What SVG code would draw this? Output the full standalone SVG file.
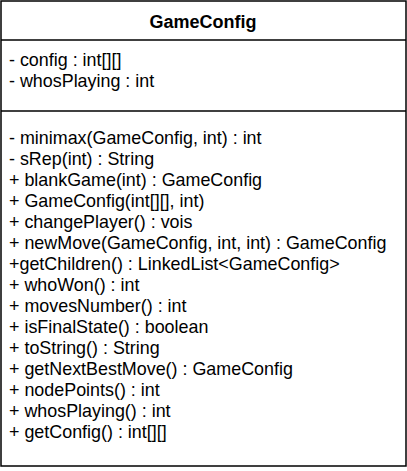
<svg xmlns="http://www.w3.org/2000/svg" width="407" height="471" viewBox="0 0 407 471">
<style>
.box{fill:#fff;stroke:#000;stroke-width:1.5}
.ln{stroke:#000;stroke-width:1.5}
.t{font-family:"Liberation Sans",Arial,sans-serif;font-size:17.9px;fill:#000}
.h{font-family:"Liberation Sans",Arial,sans-serif;font-size:18px;font-weight:bold;fill:#000}
</style>
<g id="GameConfig">
<rect class="box" x="1" y="1" width="405" height="465"/>
<line class="ln" x1="1" y1="40" x2="406" y2="40"/>
<line class="ln" x1="1" y1="111" x2="406" y2="111"/>
<text class="h" x="203" y="28" text-anchor="middle">GameConfig</text>
<text class="t" x="9" y="66">- config : int[][]</text>
<text class="t" x="9" y="87">- whosPlaying : int</text>
<text class="t" x="9" y="144">- minimax(GameConfig, int) : int</text>
<text class="t" x="9" y="165">- sRep(int) : String</text>
<text class="t" x="9" y="186">+ blankGame(int) : GameConfig</text>
<text class="t" x="9" y="207">+ GameConfig(int[][], int)</text>
<text class="t" x="9" y="228">+ changePlayer() : vois</text>
<text class="t" x="9" y="249">+ newMove(GameConfig, int, int) : GameConfig</text>
<text class="t" x="9" y="270">+getChildren() : LinkedList&lt;GameConfig&gt;</text>
<text class="t" x="9" y="291">+ whoWon() : int</text>
<text class="t" x="9" y="312">+ movesNumber() : int</text>
<text class="t" x="9" y="333">+ isFinalState() : boolean</text>
<text class="t" x="9" y="354">+ toString() : String</text>
<text class="t" x="9" y="375">+ getNextBestMove() : GameConfig</text>
<text class="t" x="9" y="396">+ nodePoints() : int</text>
<text class="t" x="9" y="417">+ whosPlaying() : int</text>
<text class="t" x="9" y="438">+ getConfig() : int[][]</text>
</g>
<g id="connectors"/>
</svg>
